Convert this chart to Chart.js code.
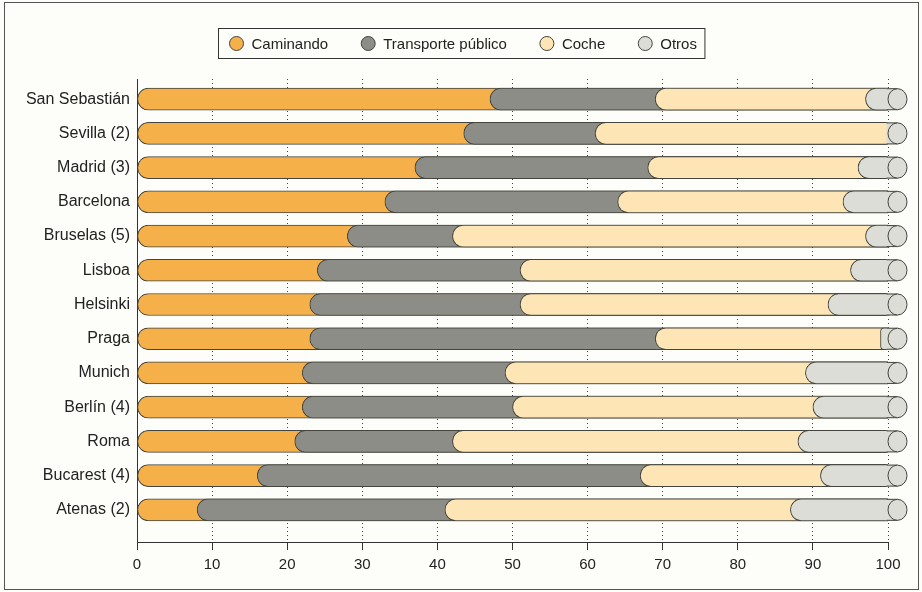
<!DOCTYPE html>
<html>
<head>
<meta charset="utf-8">
<script src="https://cdn.jsdelivr.net/npm/chart.js@4.4.1/dist/chart.umd.min.js"></script>
<style>
  html, body { margin: 0; padding: 0; background: #fdfdf9; }
  #wrap { position: relative; width: 922px; height: 592px; }
</style>
</head>
<body>
<div id="wrap"><canvas id="chart"></canvas></div>
<script>
const cities = ["San Sebastián", "Sevilla (2)", "Madrid (3)", "Barcelona", "Bruselas (5)", "Lisboa",
  "Helsinki", "Praga", "Munich", "Berlín (4)", "Roma", "Bucarest (4)", "Atenas (2)"];
const modes = ["Caminando", "Transporte público", "Coche", "Otros"];

// reparto modal (%) por ciudad
const caminando  = [47, 43.5, 37, 33, 28, 24, 23, 23, 22, 22, 21, 16, 8];
const transporte = [22, 17.5, 31, 31, 14, 27, 28, 46, 27, 28, 21, 51, 33];
const coche      = [28, 39, 28, 30, 55, 44, 41, 30, 40, 40, 46, 24, 46];
const otros      = [3, 0, 4, 6, 3, 5, 8, 1, 11, 10, 12, 9, 13];
const xTicks = [0, 10, 20, 30, 40, 50, 60, 70, 80, 90, 100];

const colors = ["#f6b04a", "#8c8d87", "#fde5b5", "#dcddd6"];
const outline = "#45453f";
const FONT = '"Liberation Sans", Arial, sans-serif';

Chart.defaults.font.family = FONT;
Chart.defaults.font.size = 15;
Chart.defaults.color = "#222";

// each segment runs from its start to 100, later modes are painted over it
const shares = [caminando, transporte, coche, otros];
const datasets = modes.map((label, k) => {
  const data = [];
  cities.forEach((c, i) => {
    let start = 0;
    for (let j = 0; j < k; j++) start += shares[j][i];
    if (shares[k][i] > 0) data.push({ x: [start, xTicks[xTicks.length - 1]], y: i });
  });
  return {
    label,
    data,
    backgroundColor: colors[k],
    borderColor: outline,
    borderWidth: 1,
    borderSkipped: false,
    borderRadius: { topLeft: 11, bottomLeft: 11, topRight: 0, bottomRight: 0 },
    barThickness: 22,
    grouped: false,
    order: modes.length - 1 - k
  };
});

const framePlugin = {
  id: "frame",
  beforeDraw(chart) {
    const { ctx, width, height } = chart;
    ctx.save();
    ctx.fillStyle = "#fdfdf9";
    ctx.fillRect(0, 0, width, height);
    ctx.strokeStyle = "#555";
    ctx.lineWidth = 1;
    ctx.strokeRect(4.5, 2.5, 914, 587);
    ctx.restore();
  }
};

// cylinder end at 100
const capPlugin = {
  id: "caps",
  afterDatasetsDraw(chart) {
    const { ctx, scales: { x, y } } = chart;
    const x0 = x.getPixelForValue(100);
    const rx = 9.5, ry = 11;
    ctx.save();
    ctx.strokeStyle = outline;
    ctx.lineWidth = 1;
    cities.forEach((c, i) => {
      const yc = y.getPixelForValue(i);
      ctx.fillStyle = colors[3];
      ctx.fillRect(x0 - 1.5, yc - ry, rx + 1.5, ry * 2);
      ctx.beginPath();
      ctx.moveTo(x0 - 1.5, yc - ry + 0.5);
      ctx.lineTo(x0 + rx, yc - ry + 0.5);
      ctx.moveTo(x0 - 1.5, yc + ry - 0.5);
      ctx.lineTo(x0 + rx, yc + ry - 0.5);
      ctx.stroke();
      ctx.beginPath();
      ctx.ellipse(x0 + rx, yc, rx, ry - 0.5, 0, 0, Math.PI * 2);
      ctx.fill();
      ctx.stroke();
    });
    ctx.restore();
  }
};

const legendPlugin = {
  id: "boxLegend",
  afterDraw(chart) {
    const ctx = chart.ctx;
    const r = 7, toText = 15, between = 40;
    ctx.save();
    ctx.font = "15px " + FONT;
    const widths = modes.map(m => ctx.measureText(m).width);
    const inner = r + widths.reduce((s, w) => s + toText + w, 0) + between * (modes.length - 1);
    const boxW = inner + 11 + 8;
    const left = Math.round((chart.width - boxW) / 2) + 0.5;
    const top = 28.5, boxH = 30, mid = top + boxH / 2;
    ctx.strokeStyle = "#333";
    ctx.lineWidth = 1;
    ctx.strokeRect(left, top, boxW, boxH);
    let cx = left + 11 + r;
    modes.forEach((m, k) => {
      ctx.beginPath();
      ctx.arc(cx, mid, r, 0, Math.PI * 2);
      ctx.fillStyle = colors[k];
      ctx.fill();
      ctx.strokeStyle = outline;
      ctx.stroke();
      ctx.fillStyle = "#222";
      ctx.textBaseline = "middle";
      ctx.fillText(m, cx + toText, mid + 1);
      cx += toText + widths[k] + between;
    });
    ctx.restore();
  }
};

new Chart(document.getElementById("chart"), {
  type: "bar",
  data: { datasets },
  options: {
    indexAxis: "y",
    responsive: true,
    maintainAspectRatio: false,
    animation: false,
    layout: { padding: { top: 79, right: 34, bottom: 12, left: 0 } },
    plugins: { legend: { display: false }, tooltip: { enabled: false } },
    scales: {
      x: {
        type: "linear",
        min: 0,
        max: 100,
        afterBuildTicks: (scale) => { scale.ticks = xTicks.map(v => ({ value: v })); },
        grid: { color: "#444", tickColor: "#333", tickLength: 8 },
        border: { color: "#333", dash: [1, 3] },
        ticks: { padding: 6, color: "#222" }
      },
      y: {
        type: "linear",
        reverse: true,
        offset: false,
        min: -0.59,
        max: 12.94,
        afterBuildTicks: (scale) => { scale.ticks = cities.map((c, i) => ({ value: i })); },
        afterFit: (scale) => { scale.width = 137; },
        grid: { display: false, drawTicks: false, offset: false },
        border: { color: "#333" },
        ticks: {
          padding: 7,
          autoSkip: false,
          color: "#222",
          font: { size: 16 },
          callback: (v) => cities[v]
        }
      }
    }
  },
  plugins: [framePlugin, capPlugin, legendPlugin]
});
</script>
</body>
</html>
